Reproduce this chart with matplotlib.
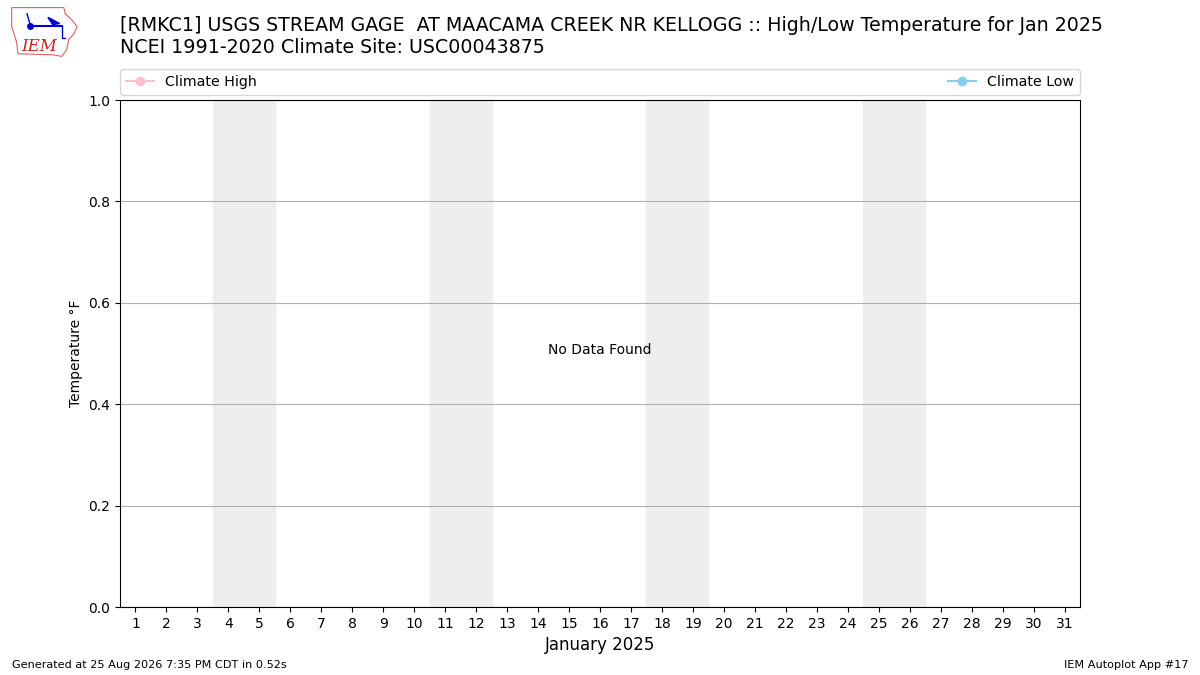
import matplotlib
matplotlib.use("Agg")
import matplotlib.pyplot as plt
from matplotlib.patches import Polygon

# data
days = list(range(1, 32))
weekend_starts = [4, 11, 18, 25]
series_names = ["Climate High", "Climate Low"]
series_colors = ["pink", "skyblue"]
title_lines = [
    "[RMKC1] USGS STREAM GAGE  AT MAACAMA CREEK NR KELLOGG :: High/Low Temperature for Jan 2025",
    "NCEI 1991-2020 Climate Site: USC00043875",
]

fig = plt.figure(figsize=(12, 6.75), dpi=100)
ax = fig.add_axes([0.1, 0.1007, 0.8, 0.7511])

for d in weekend_starts:
    ax.axvspan(d - 0.5, d + 1.5, color="#eeeeee", zorder=0)

lines = []
for name, col in zip(series_names, series_colors):
    ln, = ax.plot([], [], marker="o", color=col, label=name)
    lines.append(ln)

ax.text(0.5, 0.5, "No Data Found", transform=ax.transAxes, ha="center")
ax.set_xlim(0.5, 31.5)
ax.set_ylim(0, 1)
ax.set_xticks(days)
ax.set_xticklabels([str(d) for d in days])
ax.grid(True, axis="y")
ax.set_axisbelow(True)
ax.set_ylabel("Temperature \u00b0F")
ax.set_xlabel("January 2025", fontsize=12)

fig.legend(handles=lines, loc="lower left", bbox_to_anchor=(0.1, 0.86, 0.8, 0.04),
           mode="expand", ncol=2, borderaxespad=0, fontsize=10.2)

fig.text(0.1, 0.976, "\n".join(title_lines), fontsize=13.67, va="top", linespacing=1.2)

fig.text(0.01, 0.01, "Generated at 25 Aug 2026 7:35 PM CDT in 0.52s", fontsize=8.15)
fig.text(0.99, 0.01, "IEM Autoplot App #17", fontsize=8.15, ha="right")

# rough logo
lax = fig.add_axes([0.008, 0.915, 0.058, 0.076])
lax.set_xlim(0, 1)
lax.set_ylim(0, 1)
lax.axis("off")
outline = [(0.03, 0.97), (0.78, 0.97), (0.8, 0.85), (0.9, 0.72), (0.97, 0.6),
           (0.92, 0.45), (0.85, 0.35), (0.82, 0.15), (0.75, 0.02), (0.62, 0.05),
           (0.12, 0.07), (0.1, 0.3), (0.03, 0.6)]
lax.add_patch(Polygon(outline, closed=True, fill=False, edgecolor="#e06060", lw=0.8))
lax.plot([0.3, 0.75], [0.62, 0.62], color="#0000cc", lw=1.5)
lax.plot([0.3], [0.62], "o", color="#0000cc", ms=4)
lax.plot([0.3, 0.25], [0.62, 0.85], color="#0000cc", lw=1)
lax.add_patch(Polygon([(0.55, 0.78), (0.72, 0.66), (0.62, 0.64)], closed=True,
                      color="#0000cc"))
lax.plot([0.75, 0.75, 0.8], [0.62, 0.38, 0.38], color="#0000cc", lw=1)
lax.text(0.42, 0.22, "IEM", color="#cc2222", fontsize=12, style="italic",
         family="DejaVu Serif", ha="center", va="center")

fig.savefig("out.png", dpi=100)
